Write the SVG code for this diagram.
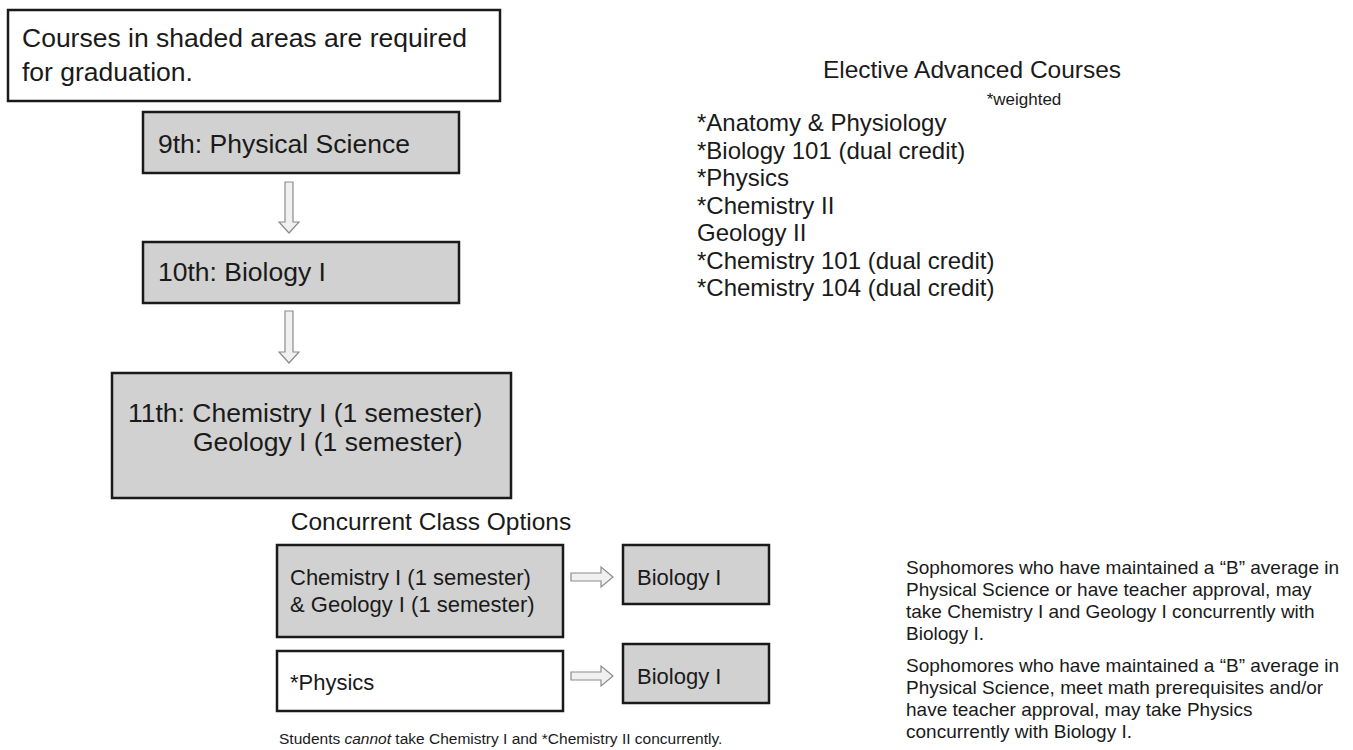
<svg xmlns="http://www.w3.org/2000/svg" width="1353" height="750" viewBox="0 0 1353 750">
<style>
text{font-family:"Liberation Sans",Arial,Helvetica,sans-serif;fill:#1a1a1a}
.box{stroke:#1a1a1a;stroke-width:2.5}
.g{fill:#d1d1d1}
.w{fill:#ffffff}
.t26{font-size:26.5px}
.t22{font-size:22px}
.t24{font-size:24.5px}
.t19{font-size:19px}
.t16{font-size:15.5px}
.lst{font-size:24px}
.arr{fill:#f0f0f0;stroke:#8c8c8c;stroke-width:1.2}
</style>
<rect width="1353" height="750" fill="#ffffff"/>
<g id="note-required">
<rect class="box w" x="8" y="10" width="492" height="91"/>
<text class="t26" x="22" y="47">Courses in shaded areas are required</text>
<text class="t26" x="22" y="81">for graduation.</text>
</g>
<g id="n9th">
<rect class="box g" x="143" y="112" width="316" height="61"/>
<text class="t26" x="158" y="153">9th: Physical Science</text>
</g>
<g id="n10th">
<rect class="box g" x="143" y="242" width="316" height="61"/>
<text class="t26" x="158" y="281">10th: Biology I</text>
</g>
<g id="n11th">
<rect class="box g" x="112" y="373" width="399" height="125"/>
<text class="t26" x="128" y="422">11th: Chemistry I (1 semester)</text>
<text class="t26" x="193" y="451">Geology I (1 semester)</text>
</g>
<g id="title-concurrent">
<text class="t24" x="431" y="530" text-anchor="middle">Concurrent Class Options</text>
</g>
<g id="n-chem-geo">
<rect class="box g" x="277" y="545" width="286" height="92"/>
<text class="t22" x="290" y="585">Chemistry I (1 semester)</text>
<text class="t22" x="290" y="612">&amp; Geology I (1 semester)</text>
</g>
<g id="n-bio1">
<rect class="box g" x="623" y="545" width="146" height="59"/>
<text class="t22" x="637" y="585">Biology I</text>
</g>
<g id="n-physics">
<rect class="box w" x="277" y="651" width="286" height="60"/>
<text class="t22" x="290" y="690">*Physics</text>
</g>
<g id="n-bio2">
<rect class="box g" x="623" y="644" width="146" height="59"/>
<text class="t22" x="637" y="684">Biology I</text>
</g>
<g id="connectors">
<path class="arr" d="M285,182 H293 V222 H299 L289,233 L279,222 H285 Z"/>
<path class="arr" d="M285,311 H293 V352 H299 L289,363 L279,352 H285 Z"/>
<path class="arr" d="M571,573 H601 V567 L613,577 L601,587 V581 H571 Z"/>
<path class="arr" d="M571,672 H601 V666 L613,676 L601,686 V680 H571 Z"/>
</g>
<g id="footnote">
<text class="t16" x="279" y="744">Students <tspan font-style="italic">cannot</tspan> take Chemistry I and *Chemistry II concurrently.</text>
</g>
<g id="note-b-average">
<text class="t19" x="906" y="574">Sophomores who have maintained a “B” average in</text>
<text class="t19" x="906" y="596">Physical Science or have teacher approval, may</text>
<text class="t19" x="906" y="618">take Chemistry I and Geology I concurrently with</text>
<text class="t19" x="906" y="640">Biology I.</text>
</g>
<g id="note-physics">
<text class="t19" x="906" y="672">Sophomores who have maintained a “B” average in</text>
<text class="t19" x="906" y="694">Physical Science, meet math prerequisites and/or</text>
<text class="t19" x="906" y="716">have teacher approval, may take Physics</text>
<text class="t19" x="906" y="738">concurrently with Biology I.</text>
</g>
<g id="electives">
<text class="t24" x="972" y="78" text-anchor="middle">Elective Advanced Courses</text>
<text x="1024" y="105" text-anchor="middle" style="font-size:17px">*weighted</text>
<text class="lst" x="697" y="131">*Anatomy &amp; Physiology</text>
<text class="lst" x="697" y="158.5">*Biology 101 (dual credit)</text>
<text class="lst" x="697" y="186">*Physics</text>
<text class="lst" x="697" y="213.5">*Chemistry II</text>
<text class="lst" x="697" y="241">Geology II</text>
<text class="lst" x="697" y="268.5">*Chemistry 101 (dual credit)</text>
<text class="lst" x="697" y="296">*Chemistry 104 (dual credit)</text>
</g>
</svg>
